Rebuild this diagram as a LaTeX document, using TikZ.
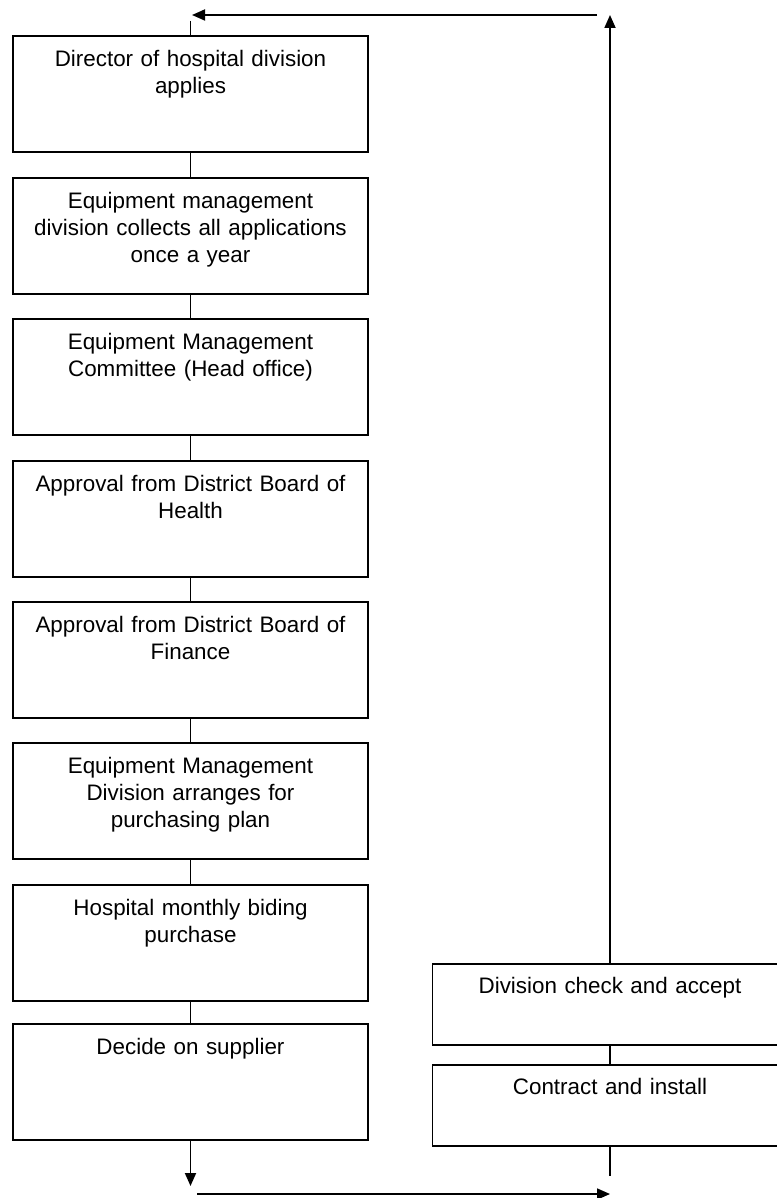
\documentclass[tikz,border=0pt]{standalone}
\usepackage{fontspec}
\setmainfont{Liberation Sans}
\usetikzlibrary{arrows.meta}
\usetikzlibrary{positioning}
\tikzset{>={Triangle[length=6.5pt,width=5.5pt]}}
\newcommand\stagefont{\fontsize{11.2}{13.5}\selectfont}
\tikzset{
    stage/.style={draw, line width=0.9pt, anchor=north, inner sep=0pt, text width=177.5pt, align=center, text height=15.5pt, text depth=42.5pt, font=\stagefont},
    substage/.style={stage, text height=15pt, text depth=25.5pt},
    link/.style={line width=0.9pt},
}

\begin{document}
\begin{tikzpicture}[x=0.5pt,y=-0.5pt]
	\useasboundingbox (0,0) rectangle (776,1198);
	% main chain
	\node[stage] (b1) at (190.5,35) {Director of hospital division\\applies};
	\node[stage] (b2) at (190.5,177) {Equipment management\\division collects all applications\\once a year};
	\node[stage] (b3) at (190.5,318) {Equipment Management\\Committee (Head office)};
	\node[stage] (b4) at (190.5,460) {Approval from District Board of\\Health};
	\node[stage] (b5) at (190.5,601) {Approval from District Board of\\Finance};
	\node[stage] (b6) at (190.5,742) {Equipment Management\\Division arranges for\\purchasing plan};
	\node[stage] (b7) at (190.5,884) {Hospital monthly biding\\purchase};
	\node[stage] (b8) at (190.5,1023) {Decide on supplier};
	% right branch
	\node[substage] (r1) at (610,963) {Division check and accept};
	\node[substage] (r2) at (610,1064) {Contract and install};

	\foreach \i/\j in {1/2,2/3,3/4,4/5,5/6,6/7,7/8}
		\draw[link] (b\i) -- (b\j);
	\draw[link] (r1) -- (r2);

	\coordinate (in) at (190.5,21);
	\coordinate (topR) at (597,15);
	\coordinate (topL) at (192,15);
	\coordinate (up) at (610,15);
	\coordinate (down) at (190.5,1186);
	\coordinate (botL) at (197,1194);
	\coordinate (botR) at (610,1194);
	\coordinate (out) at (610,1176);

	\draw[link] (in) -- (b1);
	\draw[link,->] (topR) -- (topL);
	\draw[link,->] (r1) -- (up);
	\draw[link,->] (b8) -- (down);
	\draw[link,->] (botL) -- (botR);
	\draw[link] (r2) -- (out);
\end{tikzpicture}
\end{document}
